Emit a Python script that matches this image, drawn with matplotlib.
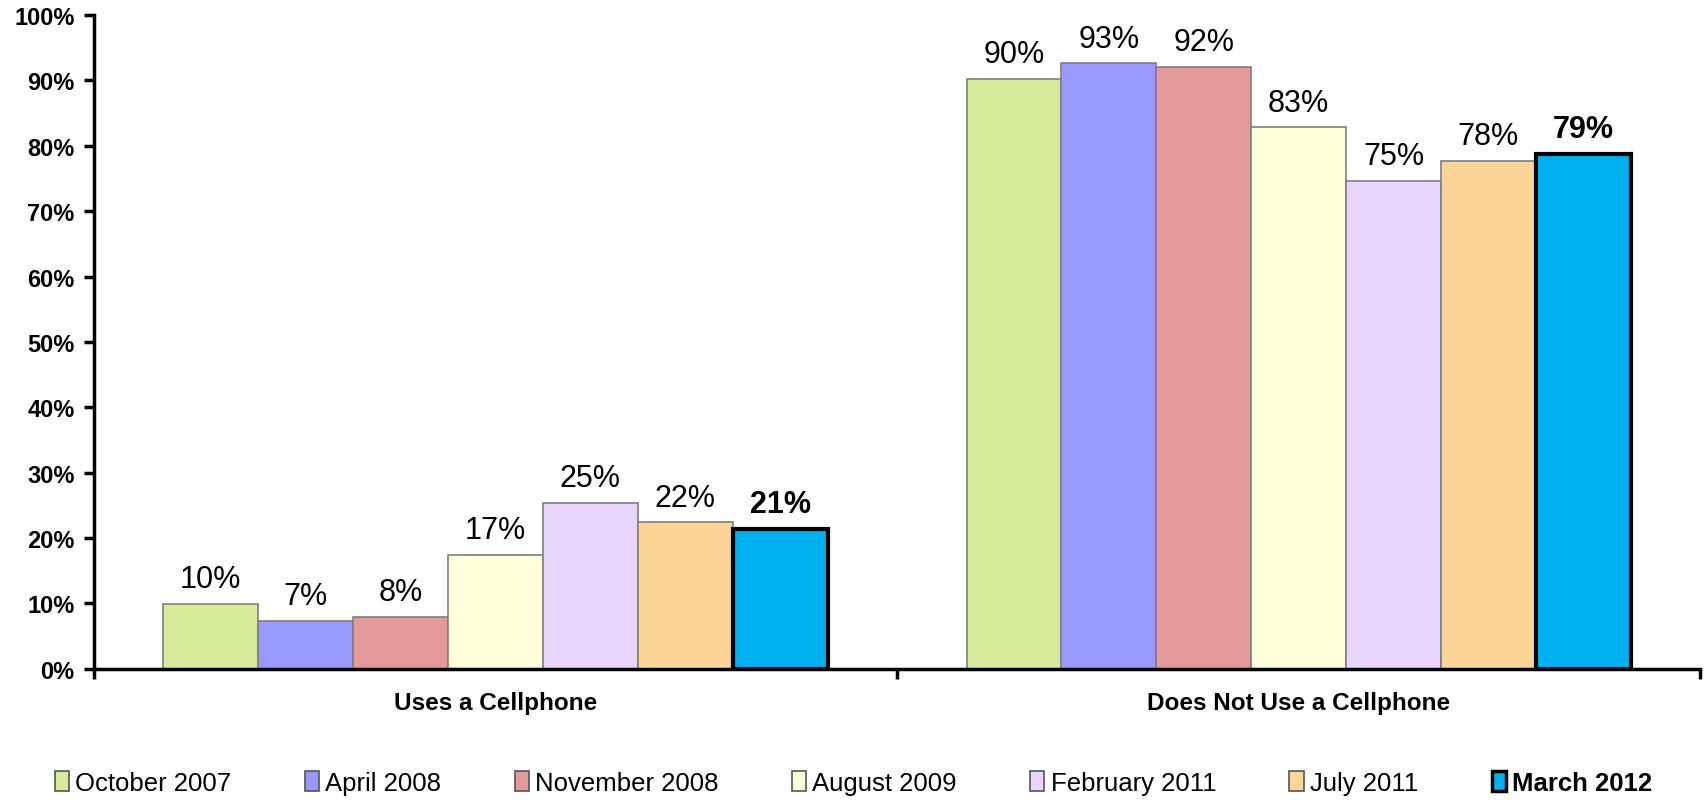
import numpy as np
import matplotlib.pyplot as plt
from matplotlib.patches import Patch

plt.rcParams['font.family'] = ['Liberation Sans', 'DejaVu Sans']

categories = ['Uses a Cellphone', 'Does Not Use a Cellphone']
series = ['October 2007', 'April 2008', 'November 2008', 'August 2009',
          'February 2011', 'July 2011', 'March 2012']
uses = [9.9, 7.3, 7.9, 17.4, 25.4, 22.4, 21.4]
not_uses = [90.2, 92.6, 92.1, 82.8, 74.6, 77.7, 78.8]
value_labels = [['10%', '7%', '8%', '17%', '25%', '22%', '21%'],
                ['90%', '93%', '92%', '83%', '75%', '78%', '79%']]
colors = ['#D7E99B', '#9999FF', '#E49A9A', '#FFFFD9', '#E9D6FE', '#FCD599', '#00B0EF']

fig = plt.figure(figsize=(17.07, 8.03), dpi=100)
ax = fig.add_axes([0.055, 0.166, 0.941, 0.814])

n = len(series)
width = 0.827 / n
x = np.arange(len(categories))
for i in range(n):
    vals = [uses[i], not_uses[i]]
    last = i == n - 1
    pos = x - 0.827 / 2 + width * (i + 0.5)
    bars = ax.bar(pos, vals, width, color=colors[i],
                  edgecolor='black' if last else '#7f7f7f',
                  linewidth=3 if last else 1.2, zorder=3 if last else 2)
    for j, b in enumerate(bars):
        ax.annotate(value_labels[j][i], (b.get_x() + b.get_width() / 2, b.get_height()),
                    xytext=(0, 7), textcoords='offset points', ha='center', va='bottom',
                    fontsize=22, fontweight='bold' if last else 'normal')

ax.set_xlim(-0.5, 1.5)
ax.set_ylim(0, 100)
ax.set_yticks(np.arange(0, 101, 10))
ax.set_yticklabels([f'{v}%' for v in range(0, 101, 10)], fontsize=17, fontweight='bold')
ax.set_xticks([-0.5, 0.5, 1.5])
ax.set_xticklabels([])
ax.set_xticks(x, minor=True)
ax.set_xticklabels(categories, minor=True, fontsize=17.5, fontweight='bold')
ax.tick_params(axis='x', which='minor', length=0, pad=16)
ax.tick_params(axis='x', which='major', length=7, width=2.5, direction='out')
ax.tick_params(axis='y', length=7, width=2.5, direction='out', pad=7)
for s in ['top', 'right']:
    ax.spines[s].set_visible(False)
for s in ['left', 'bottom']:
    ax.spines[s].set_linewidth(2.5)

handles = [Patch(facecolor=colors[i], edgecolor='black' if i == n - 1 else '#555555',
                 linewidth=2.5 if i == n - 1 else 1.2) for i in range(n)]
leg = fig.legend(handles, series, loc='center', bbox_to_anchor=(0.5, 0.024), ncol=n,
                 frameon=False, fontsize=18.5, handlelength=0.55, handleheight=0.8,
                 handletextpad=0.25, columnspacing=2.85)
leg.get_texts()[-1].set_fontweight('bold')

fig.savefig('out.png', dpi=100)
